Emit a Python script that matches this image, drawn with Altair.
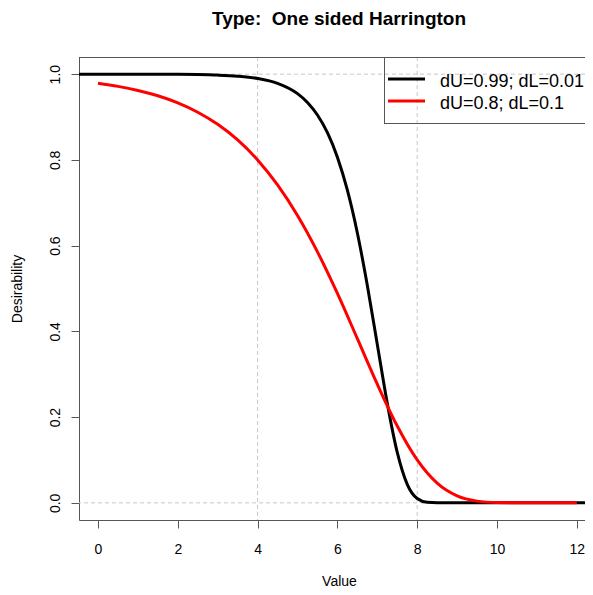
import altair as alt
import pandas as pd

# ---- data ----
x_black = [-0.5, 0, 1, 2, 2.5, 3, 3.5, 4, 4.5, 5, 5.25, 5.5, 5.75, 6, 6.25, 6.5,
           6.75, 7, 7.25, 7.5, 7.75, 8, 8.25, 8.5, 9, 10, 11, 12, 12.5]
d_black = [1.0, 1.0, 0.9999, 0.9995, 0.9990, 0.9978, 0.9953, 0.9900, 0.9786, 0.9546,
           0.9341, 0.9047, 0.8635, 0.8064, 0.7293, 0.6296, 0.5071, 0.3695, 0.2320,
           0.1175, 0.0432, 0.0100, 0.0012, 0.0001, 0.0, 0.0, 0.0, 0.0, 0.0]

x_red = [0, 0.5, 1, 1.5, 2, 2.5, 3, 3.5, 4, 4.5, 5, 5.5, 6, 6.5, 7, 7.5, 8, 8.5,
         9, 9.5, 10, 10.5, 11, 12]
d_red = [0.9786, 0.9715, 0.9620, 0.9495, 0.9329, 0.9112, 0.8829, 0.8465, 0.8000,
         0.7417, 0.6704, 0.5855, 0.4884, 0.3830, 0.2767, 0.1792, 0.1000, 0.0458,
         0.0161, 0.0040, 0.0006, 0.0001, 0.0, 0.0]

series_labels = ["dU=0.99; dL=0.01", "dU=0.8; dL=0.1"]
series_colors = ["#000000", "#ff0000"]

grid_x = [4, 8]
grid_y = [0, 1]
x_ticks = [0, 2, 4, 6, 8, 10, 12]
y_ticks = [0.0, 0.2, 0.4, 0.6, 0.8, 1.0]

title_text = "Type:\u00a0 One sided Harrington"
x_title = "Value"
y_title = "Desirability"

FONT = "Liberation Sans, Arial, sans-serif"
W, H = 506, 463
XDOM = [-0.476, 12.205]
YDOM = [-0.04, 1.04]
FRAME = "#555555"

df = pd.concat([
    pd.DataFrame({"x": x_black, "d": d_black, "s": series_labels[0]}),
    pd.DataFrame({"x": x_red, "d": d_red, "s": series_labels[1]}),
])

xs = alt.Scale(domain=XDOM, nice=False, zero=False)
ys = alt.Scale(domain=YDOM, nice=False, zero=False)

x_axis = alt.Axis(
    values=x_ticks, title=x_title, grid=False, domainColor=FRAME, tickColor=FRAME,
    tickSize=8, labelFont=FONT, labelFontSize=14, labelColor="#000",
    labelBaseline="alphabetic", labelPadding=25, labelAlign="center",
    titleFont=FONT, titleFontSize=14, titleFontWeight="normal", titleColor="#000",
    titleX=260, titleY=65, titleBaseline="alphabetic", titleAlign="center",
    labelFlush=False, labelOverlap=False)
y_axis = alt.Axis(
    values=y_ticks, format=".1f", title=y_title, grid=False, domainColor=FRAME,
    tickColor=FRAME, tickSize=8, labelFont=FONT, labelFontSize=14, labelColor="#000",
    labelAngle=270, labelAlign="center", labelBaseline="alphabetic", labelPadding=12,
    titleFont=FONT, titleFontSize=14, titleFontWeight="normal", titleColor="#000",
    titleAngle=270, titleX=-57.5, titleY=H / 2, titleBaseline="alphabetic",
    titleAlign="center", labelFlush=False, labelOverlap=False)

gx = alt.Chart(pd.DataFrame({"v": grid_x})).mark_rule(
    color="#c8c8c8", strokeDash=[4, 3], strokeWidth=1
).encode(x=alt.X("v:Q", scale=xs, axis=x_axis))

gy = alt.Chart(pd.DataFrame({"v": grid_y})).mark_rule(
    color="#c8c8c8", strokeDash=[4, 3], strokeWidth=1
).encode(y=alt.Y("v:Q", scale=ys, axis=y_axis))

lines = alt.Chart(df).mark_line(strokeWidth=3, clip=True, interpolate="monotone").encode(
    x=alt.X("x:Q", scale=xs, axis=x_axis),
    y=alt.Y("d:Q", scale=ys, axis=y_axis),
    color=alt.Color("s:N", scale=alt.Scale(domain=series_labels, range=series_colors),
                    legend=None),
    order="x:Q",
)

frame_top = alt.Chart(pd.DataFrame({"a": [0]})).mark_rule(color=FRAME, strokeWidth=1).encode(
    x=alt.value(0), x2=alt.value(W), y=alt.value(0.5))

# legend (drawn like R's legend("topright"))
LX0 = 305
leg_left = alt.Chart(pd.DataFrame({"a": [0]})).mark_rule(color=FRAME, strokeWidth=1).encode(
    x=alt.value(LX0 + 0.5), y=alt.value(0), y2=alt.value(66))
leg_bottom = alt.Chart(pd.DataFrame({"a": [0]})).mark_rule(color=FRAME, strokeWidth=1).encode(
    x=alt.value(LX0), x2=alt.value(W), y=alt.value(66.5))

leg_layers = []
for i, (lab, col) in enumerate(zip(series_labels, series_colors)):
    one = pd.DataFrame({"lab": [lab]})
    leg_layers.append(alt.Chart(one).mark_rule(color=col, strokeWidth=3).encode(
        x=alt.value(309), x2=alt.value(346), y=alt.value(22 + 22 * i)))
    leg_layers.append(alt.Chart(one).mark_text(
        font=FONT, fontSize=18, align="left", baseline="alphabetic", color="#000"
    ).encode(x=alt.value(361), y=alt.value(30 + 22 * i), text="lab:N"))

chart = alt.layer(gx, gy, lines, frame_top, leg_left, leg_bottom, *leg_layers).properties(
    width=W, height=H,
    title=alt.TitleParams(title_text, font=FONT, fontSize=19, fontWeight="bold",
                          color="#000", anchor="middle", dx=7, offset=13,
                          baseline="alphabetic"),
    autosize=alt.AutoSizeParams(type="none"),
    padding={"left": 71, "top": 49, "right": 0, "bottom": 67},
).configure_view(stroke="transparent", strokeWidth=0).configure(background="white")

chart.save("out.html", embed_options={"renderer": "svg", "actions": False})
